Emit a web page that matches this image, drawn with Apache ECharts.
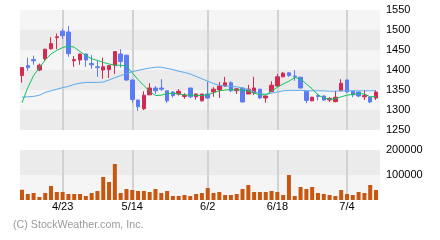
<!DOCTYPE html>
<html>
<head>
<meta charset="utf-8">
<script src="https://cdn.jsdelivr.net/npm/echarts@6/dist/echarts.min.js"></script>
<style>html,body{margin:0;padding:0;background:#fff}#c{width:440px;height:240px}</style>
</head>
<body>
<div id="c"></div>
<script>
var categories = ['4/14','4/15','4/16','4/17','4/18','4/21','4/22','4/23','4/24','4/25',
  '4/28','4/29','4/30','5/2','5/6','5/7','5/8','5/9','5/13','5/14',
  '5/15','5/16','5/19','5/20','5/21','5/22','5/23','5/26','5/27','5/28',
  '5/29','5/30','6/2','6/3','6/4','6/5','6/6','6/9','6/10','6/11',
  '6/12','6/13','6/16','6/17','6/18','6/19','6/20','6/23','6/24','6/25',
  '6/26','6/27','6/30','7/1','7/2','7/3','7/4','7/7','7/8','7/9','7/10','7/11'];
var tickLabels = ['4/23','5/14','6/2','6/18','7/4'];
// [open, close, low, high]
var candles = [
  [1386,1406,1368,1407],[1411,1406,1398,1431],[1426,1423,1413,1436],[1400,1412,1397,1416],
  [1428,1452,1422,1453],[1453,1466,1451,1482],[1481,1483,1452,1491],[1497,1486,1478,1503],
  [1495,1441,1433,1510],[1423,1426,1408,1435],[1425,1440,1413,1441],[1440,1425,1408,1441],
  [1416,1413,1403,1437],[1408,1406,1383,1424],[1400,1408,1378,1431],[1401,1411,1380,1411],
  [1411,1446,1390,1446],[1440,1421,1406,1452],[1437,1375,1373,1438],[1375,1326,1318,1376],
  [1325,1308,1298,1326],[1303,1337,1300,1347],[1338,1355,1337,1367],[1355,1348,1340,1360],
  [1355,1352,1348,1377],[1348,1323,1318,1348],[1345,1336,1331,1347],[1340,1347,1336,1352],
  [1334,1337,1328,1342],[1355,1333,1330,1355],[1333,1340,1326,1342],[1323,1340,1321,1340],
  [1340,1330,1328,1371],[1345,1352,1333,1357],[1350,1360,1330,1370],[1360,1368,1358,1383],
  [1368,1348,1345,1372],[1348,1353,1340,1355],[1355,1320,1319,1356],[1340,1352,1340,1363],
  [1343,1355,1338,1383],[1352,1330,1328,1353],[1330,1335,1318,1336],[1346,1362,1344,1372],
  [1360,1383,1358,1390],[1383,1392,1382,1395],[1393,1386,1383,1395],[1385,1383,1373,1400],
  [1382,1355,1354,1383],[1347,1324,1317,1348],[1323,1332,1322,1333],[1336,1334,1324,1341],
  [1335,1325,1323,1337],[1325,1329,1320,1332],[1321,1332,1319,1348],[1348,1367,1347,1377],
  [1375,1345,1344,1376],[1347,1338,1332,1348],[1345,1335,1332,1346],[1333,1336,1325,1350],
  [1332,1320,1317,1333],[1330,1345,1325,1350]
];
var maShort = [1318,1356,1386,1406,1425,1440,1449,1456,1460,1457,
  1446,1436,1428,1424,1419,1415,1412,1412,1410,1393,
  1376,1361,1347,1336,1337,1341,1342,1340,1338,1337,
  1337,1336,1338,1343,1348,1350,1351,1350,1350,1347,
  1342,1338,1338,1347,1357,1365,1372,1381,1378,1365,
  1353,1338,1330,1327,1328,1333,1337,1339,1341,1340,1333,1334];
var maLong = [1332,1333,1334,1337,1344,1348,1352,1356,1359,1364,
  1367,1369,1369,1369,1370,1375,1381,1386,1391,1396,
  1399,1402,1405,1407,1407,1404,1401,1397,1394,1390,
  1384,1378,1372,1366,1362,1360,1359,1358,1355,1351,
  1346,1341,1339,1342,1345,1348,1349,1349,1349,1348,
  1348,1348,1348,1347,1347,1348,1348,1348,1348,1348,1348,1348];
var volume = [41000,24000,28000,12000,28000,56000,32000,32000,24000,24000,
  24000,16000,28000,36000,92000,72000,144000,28000,44000,40000,
  36000,36000,32000,44000,28000,36000,16000,16000,20000,16000,
  24000,28000,48000,28000,32000,20000,20000,24000,44000,60000,
  32000,32000,32000,36000,32000,20000,100000,16000,52000,44000,
  52000,28000,24000,20000,16000,40000,24000,20000,32000,28000,60000,40000];

var FONT = '"Liberation Sans", Arial, sans-serif';
var VOL_COLOR = '#c8560f';
function isTick(idx, val) { return tickLabels.indexOf(val) >= 0; }
var vLine = { show: true, interval: isTick, lineStyle: { color: '#d2d2d2', width: 2 } };

var chart = echarts.init(document.getElementById('c'), null, { renderer: 'canvas' });
chart.setOption({
  animation: false,
  backgroundColor: '#ffffff',
  title: {
    text: '(C) StockWeather.com, Inc.', left: 8, top: 215,
    textStyle: { fontSize: 10.7, fontWeight: 'normal', color: '#9a9a9a', fontFamily: FONT }
  },
  grid: [
    { left: 20, top: 10, width: 360, height: 120 },
    { left: 22, top: 10, width: 354, height: 120 },
    { left: 20, top: 150, width: 360, height: 50 },
    { left: 22, top: 150, width: 354, height: 50 }
  ],
  xAxis: [
    { gridIndex: 0, type: 'value', min: 0, max: 1, show: false },
    { gridIndex: 1, type: 'category', data: categories, boundaryGap: false,
      axisLine: { show: false }, axisTick: { show: false }, axisLabel: { show: false },
      axisPointer: { show: false }, splitLine: vLine },
    { gridIndex: 2, type: 'value', min: 0, max: 1, show: false },
    { gridIndex: 3, type: 'category', data: categories, boundaryGap: false,
      axisLine: { show: false }, axisTick: { show: false }, axisPointer: { show: false },
      axisLabel: { show: true, interval: isTick, fontSize: 11, color: '#000', margin: 1, fontFamily: FONT },
      splitLine: vLine }
  ],
  yAxis: [
    { gridIndex: 0, type: 'value', min: 1250, max: 1550, interval: 50, position: 'right',
      axisLine: { show: false }, axisTick: { show: false }, splitLine: { show: false },
      axisLabel: { fontSize: 11, color: '#000', margin: 6, fontFamily: FONT,
        formatter: function (v) { return String(v); } },
      splitArea: { show: true, areaStyle: { color: ['#ebebeb', '#f5f5f5'] } } },
    { gridIndex: 1, type: 'value', min: 1250, max: 1550, show: false },
    { gridIndex: 2, type: 'value', min: 0, max: 200000, interval: 100000, position: 'right',
      axisLine: { show: false }, axisTick: { show: false }, splitLine: { show: false },
      axisLabel: { fontSize: 11, color: '#000', margin: 6, fontFamily: FONT,
        formatter: function (v) { return v === 0 ? '' : String(v); } },
      splitArea: { show: true, areaStyle: { color: ['#f5f5f5', '#ebebeb'] } } },
    { gridIndex: 3, type: 'value', min: 0, max: 200000, show: false }
  ],
  series: [
    { type: 'bar', name: 'vol', xAxisIndex: 3, yAxisIndex: 3, data: volume, barWidth: 4, clip: false,
      colorBy: 'series', color: VOL_COLOR, emphasis: { disabled: true },
      itemStyle: { color: VOL_COLOR, borderWidth: 0 } },
    { type: 'candlestick', name: 'price', xAxisIndex: 1, yAxisIndex: 1, data: candles, barWidth: 4, clip: false,
      emphasis: { disabled: true },
      itemStyle: { color: '#d42a52', color0: '#5c7cf6', borderColor: '#d42a52', borderColor0: '#5c7cf6', borderWidth: 1 } },
    { type: 'line', name: 'ma20', xAxisIndex: 1, yAxisIndex: 1, data: maLong, symbol: 'none', clip: false,
      lineStyle: { color: '#5aa9f2', width: 1 } },
    { type: 'line', name: 'ma5', xAxisIndex: 1, yAxisIndex: 1, data: maShort, symbol: 'none', clip: false,
      lineStyle: { color: '#12c25a', width: 1 } }
  ]
});
</script>
</body>
</html>
